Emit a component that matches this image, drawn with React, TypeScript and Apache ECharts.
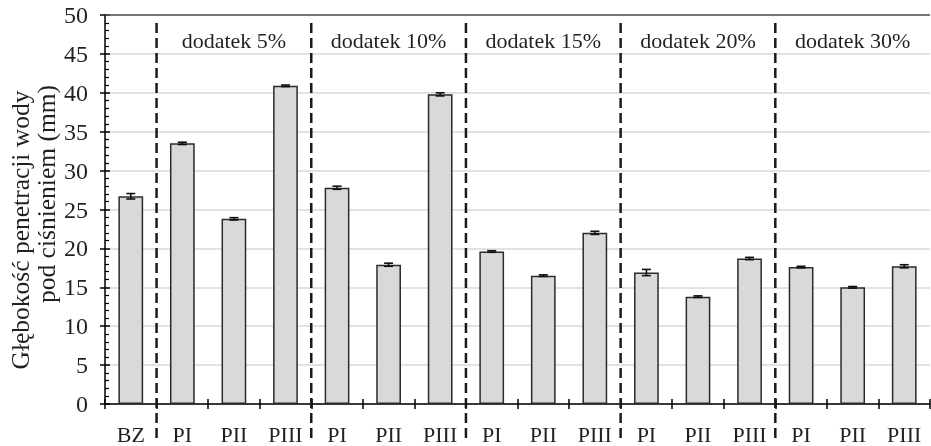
import React, { useEffect, useRef } from "react";
import * as echarts from "echarts";

const categories = ["BZ", "PI", "PII", "PIII", "PI", "PII", "PIII", "PI", "PII", "PIII", "PI", "PII", "PIII", "PI", "PII", "PIII"];
const values = [26.7, 33.5, 23.8, 40.9, 27.8, 17.9, 39.8, 19.6, 16.5, 22.0, 16.9, 13.8, 18.7, 17.6, 15.0, 17.7];
const errors = [0.35, 0.15, 0.15, 0.1, 0.2, 0.2, 0.2, 0.1, 0.1, 0.2, 0.4, 0.1, 0.15, 0.1, 0.1, 0.2];
const groupLabels = ["dodatek 5%", "dodatek 10%", "dodatek 15%", "dodatek 20%", "dodatek 30%"];
const groupStarts = [1, 4, 7, 10, 13];
const yTitleLines = ["Głębokość penetracji wody", "pod ciśnieniem (mm)"];
const yMin = 0;
const yMax = 50;
const yStep = 5;

const FONT = "'Liberation Serif', 'Times New Roman', serif";
const TXT = "#231f20";

export default function App() {
  const ref = useRef<HTMLDivElement>(null);
  useEffect(() => {
    if (!ref.current) return;
    const chart = echarts.init(ref.current, null, { renderer: "svg" });
    const tickStyle = { color: "#000", width: 1.5 };
    const option: any = {
      animation: false,
      grid: { left: 105, right: 1, top: 15, bottom: 42, containLabel: false },
      xAxis: [
        {
          type: "category",
          data: categories,
          boundaryGap: true,
          axisLine: { show: true, lineStyle: { color: "#000", width: 1.5 } },
          axisTick: { show: true, interval: 0, length: 5, lineStyle: tickStyle },
          axisLabel: { interval: 0, fontFamily: FONT, fontSize: 22, color: TXT, margin: 19 },
          splitLine: { show: false },
        },
        {
          type: "category",
          data: categories,
          position: "bottom",
          boundaryGap: true,
          axisLine: { show: false },
          axisTick: { show: true, inside: true, interval: 0, length: 5, lineStyle: tickStyle },
          axisLabel: { show: false },
          splitLine: { show: false },
        },
      ],
      yAxis: [
        {
          type: "value",
          min: yMin,
          max: yMax,
          interval: yStep,
          axisLine: { show: true, lineStyle: { color: "#000", width: 1.5 } },
          axisTick: { show: true, length: 5, lineStyle: tickStyle },
          axisLabel: { fontFamily: FONT, fontSize: 24, color: TXT, margin: 17 },
          splitLine: { show: true, lineStyle: { color: "#d9d9d9", width: 1.5 } },
        },
        {
          type: "value",
          min: yMin,
          max: yMax,
          interval: yStep,
          position: "left",
          axisLine: { show: false },
          axisTick: { show: true, inside: true, length: 5, lineStyle: tickStyle },
          minorTick: { show: true, splitNumber: 5, length: 4, lineStyle: { color: "#000", width: 1.2 } },
          axisLabel: { show: false },
          splitLine: { show: false },
        },
      ],
      series: [
        {
          type: "bar",
          data: values,
          barWidth: "48%",
          itemStyle: { color: "#d8d9db", borderColor: "#2b2b2b", borderWidth: 1.5 },
          markLine: {
            silent: true,
            symbol: ["none", "none"],
            label: { show: false },
            lineStyle: { color: "#555", width: 1.5, type: "solid" },
            data: [{ yAxis: yMax }],
          },
        },
        {
          type: "custom",
          z: 5,
          data: values.map((v, i) => [i, v, errors[i]]),
          encode: { x: 0, y: 1 },
          renderItem: (params: any, api: any) => {
            const x = api.value(0);
            const v = api.value(1);
            const e = api.value(2);
            const top = api.coord([x, v + e]);
            const bot = api.coord([x, v - e]);
            const hw = 4.5;
            const st = { stroke: "#111", lineWidth: 1.6 };
            return {
              type: "group",
              children: [
                { type: "line", shape: { x1: top[0], y1: top[1], x2: bot[0], y2: bot[1] }, style: st },
                { type: "line", shape: { x1: top[0] - hw, y1: top[1], x2: top[0] + hw, y2: top[1] }, style: st },
                { type: "line", shape: { x1: bot[0] - hw, y1: bot[1], x2: bot[0] + hw, y2: bot[1] }, style: st },
              ],
            };
          },
        },
      ],
    };
    chart.setOption(option);

    const xAt = (i: number) => chart.convertToPixel({ xAxisIndex: 0 }, i) as number;
    const graphics: any[] = [];
    groupStarts.forEach((s, gi) => {
      const bx = (xAt(s - 1) + xAt(s)) / 2;
      graphics.push({
        type: "line",
        silent: true,
        shape: { x1: bx, y1: 23, x2: bx, y2: 441 },
        style: { stroke: "#1a1a1a", lineWidth: 2.5, lineDash: [10, 5] },
        z: 10,
      });
      graphics.push({
        type: "text",
        x: xAt(s + 1),
        y: 40,
        style: {
          text: groupLabels[gi],
          fontFamily: FONT,
          fontSize: 22,
          fill: TXT,
          align: "center",
          verticalAlign: "middle",
        },
        z: 10,
      });
    });
    graphics.push({
      type: "text",
      x: 20,
      y: 230,
      rotation: Math.PI / 2,
      style: { text: yTitleLines[0], fontFamily: FONT, fontSize: 25.5, fill: TXT, align: "center", verticalAlign: "middle" },
    });
    graphics.push({
      type: "text",
      x: 46,
      y: 194,
      rotation: Math.PI / 2,
      style: { text: yTitleLines[1], fontFamily: FONT, fontSize: 25.5, fill: TXT, align: "center", verticalAlign: "middle" },
    });
    chart.setOption({ graphic: graphics });

    return () => chart.dispose();
  }, []);
  return <div ref={ref} style={{ position: "fixed", left: 0, top: 0, width: 931, height: 446 }} />;
}
